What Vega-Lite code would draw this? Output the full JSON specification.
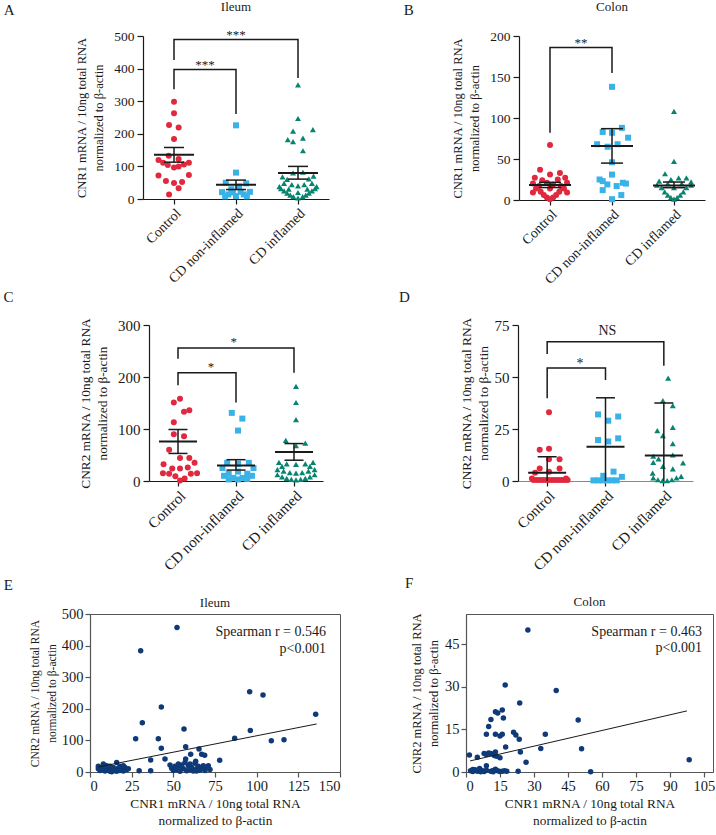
{
  "$schema": "https://vega.github.io/schema/vega-lite/v6.json",
  "padding": {"left": 2, "top": 0, "right": 0, "bottom": 0},
  "config": {
    "font": "Liberation Serif",
    "view": {"stroke": null},
    "axis": {"labelFont": "Liberation Serif", "titleFont": "Liberation Serif", "labelColor": "#1a1a1a", "titleColor": "#1a1a1a", "domainColor": "#1a1a1a", "tickColor": "#1a1a1a", "grid": false, "titleFontWeight": "normal", "labelFontSize": 14, "titleFontSize": 13, "tickSize": 6, "domainWidth": 1.2, "tickWidth": 1.2, "titleLineHeight": 17},
    "title": {"font": "Liberation Serif", "fontWeight": "normal", "fontSize": 13, "color": "#1a1a1a"},
    "text": {"font": "Liberation Serif", "color": "#1a1a1a"}
  },
  "datasets": {
    "ptA": [
      {"g":"Control","o":0,"v":298},{"g":"Control","o":0,"v":263},{"g":"Control","o":-1.6,"v":227},{"g":"Control","o":1.5,"v":219},{"g":"Control","o":0,"v":184},{"g":"Control","o":-1.7,"v":133},{"g":"Control","o":-5,"v":120},{"g":"Control","o":1.5,"v":123},{"g":"Control","o":-3.5,"v":111},{"g":"Control","o":-2,"v":104},{"g":"Control","o":0,"v":97},{"g":"Control","o":1.5,"v":100},{"g":"Control","o":3.2,"v":106},{"g":"Control","o":4.8,"v":111},{"g":"Control","o":-5,"v":72},{"g":"Control","o":-2.6,"v":55},{"g":"Control","o":0,"v":49},{"g":"Control","o":4.8,"v":74},{"g":"Control","o":2.6,"v":52},{"g":"Control","o":1.5,"v":33},{"g":"Control","o":-1.6,"v":14},
      {"g":"CD non-inflamed","o":0,"v":226},{"g":"CD non-inflamed","o":0,"v":81},{"g":"CD non-inflamed","o":-3.3,"v":50},{"g":"CD non-inflamed","o":3.3,"v":48},{"g":"CD non-inflamed","o":1,"v":38},{"g":"CD non-inflamed","o":-1.5,"v":30},{"g":"CD non-inflamed","o":-4.5,"v":21},{"g":"CD non-inflamed","o":-2.5,"v":14},{"g":"CD non-inflamed","o":0,"v":9},{"g":"CD non-inflamed","o":2.5,"v":14},{"g":"CD non-inflamed","o":4.5,"v":22},{"g":"CD non-inflamed","o":-1,"v":20},{"g":"CD non-inflamed","o":1.5,"v":22},{"g":"CD non-inflamed","o":3.5,"v":8},{"g":"CD non-inflamed","o":-3.5,"v":8},
      {"g":"CD inflamed","o":0,"v":350},{"g":"CD inflamed","o":0,"v":247},{"g":"CD inflamed","o":-1.6,"v":208},{"g":"CD inflamed","o":4.8,"v":213},{"g":"CD inflamed","o":-3.3,"v":182},{"g":"CD inflamed","o":-1.6,"v":176},{"g":"CD inflamed","o":1.6,"v":187},{"g":"CD inflamed","o":1.6,"v":148},{"g":"CD inflamed","o":-1.6,"v":80},{"g":"CD inflamed","o":1.6,"v":82},{"g":"CD inflamed","o":-5,"v":68},{"g":"CD inflamed","o":5,"v":70},{"g":"CD inflamed","o":3.5,"v":62},{"g":"CD inflamed","o":-3.5,"v":60},{"g":"CD inflamed","o":-4.5,"v":48},{"g":"CD inflamed","o":4.5,"v":48},{"g":"CD inflamed","o":-2,"v":44},{"g":"CD inflamed","o":2,"v":44},{"g":"CD inflamed","o":0,"v":40},{"g":"CD inflamed","o":-5.5,"v":32},{"g":"CD inflamed","o":5.5,"v":32},{"g":"CD inflamed","o":-4.5,"v":25},{"g":"CD inflamed","o":4.5,"v":25},{"g":"CD inflamed","o":-3.5,"v":18},{"g":"CD inflamed","o":3.5,"v":18},{"g":"CD inflamed","o":-2.5,"v":12},{"g":"CD inflamed","o":2.5,"v":12},{"g":"CD inflamed","o":-1.5,"v":7},{"g":"CD inflamed","o":1.5,"v":7},{"g":"CD inflamed","o":0,"v":3},{"g":"CD inflamed","o":-6,"v":38},{"g":"CD inflamed","o":6,"v":38},{"g":"CD inflamed","o":-3,"v":30},{"g":"CD inflamed","o":3,"v":30},{"g":"CD inflamed","o":0,"v":20}
    ],
    "stA": [
      {"g":"Control","s":"mean","v":136},{"g":"Control","s":"hi","v":158},{"g":"Control","s":"lo","v":113},
      {"g":"CD non-inflamed","s":"mean","v":44},{"g":"CD non-inflamed","s":"hi","v":58},{"g":"CD non-inflamed","s":"lo","v":29},
      {"g":"CD inflamed","s":"mean","v":80},{"g":"CD inflamed","s":"hi","v":100},{"g":"CD inflamed","s":"lo","v":61}
    ],
    "brA": [
      {"b":1,"k":1,"g":"Control","v":337},{"b":1,"k":2,"g":"Control","v":397},{"b":1,"k":3,"g":"CD non-inflamed","v":397},{"b":1,"k":4,"g":"CD non-inflamed","v":261},
      {"b":2,"k":1,"g":"Control","v":426},{"b":2,"k":2,"g":"Control","v":489},{"b":2,"k":3,"g":"CD inflamed","v":489},{"b":2,"k":4,"g":"CD inflamed","v":371}
    ],
    "txA": [
      {"g":"Control","o":10,"v":399,"t":"***"},{"g":"CD non-inflamed","o":0,"v":492,"t":"***"}
    ],
    "ptB": [
      {"g":"Control","o":0,"v":67},{"g":"Control","o":-3.2,"v":37},{"g":"Control","o":0,"v":31},{"g":"Control","o":3.2,"v":33},{"g":"Control","o":-4.9,"v":27},{"g":"Control","o":4.9,"v":27},{"g":"Control","o":-2.5,"v":24},{"g":"Control","o":2.5,"v":25},{"g":"Control","o":-1,"v":21},{"g":"Control","o":1,"v":19},{"g":"Control","o":-5.5,"v":20},{"g":"Control","o":5.5,"v":21},{"g":"Control","o":-4.5,"v":14},{"g":"Control","o":4.5,"v":14},{"g":"Control","o":-3,"v":10},{"g":"Control","o":3,"v":10},{"g":"Control","o":-2,"v":6},{"g":"Control","o":2,"v":6},{"g":"Control","o":-1,"v":3},{"g":"Control","o":1,"v":3},{"g":"Control","o":0,"v":1},{"g":"Control","o":-3.5,"v":17},{"g":"Control","o":3.5,"v":17},{"g":"Control","o":0,"v":14},{"g":"Control","o":-5.5,"v":9},{"g":"Control","o":5.5,"v":9},
      {"g":"CD non-inflamed","o":0,"v":138},{"g":"CD non-inflamed","o":3.2,"v":88},{"g":"CD non-inflamed","o":-3,"v":83},{"g":"CD non-inflamed","o":0,"v":82},{"g":"CD non-inflamed","o":5.2,"v":76},{"g":"CD non-inflamed","o":-4.8,"v":68},{"g":"CD non-inflamed","o":1.8,"v":68},{"g":"CD non-inflamed","o":-1.4,"v":65},{"g":"CD non-inflamed","o":0,"v":46},{"g":"CD non-inflamed","o":0,"v":31},{"g":"CD non-inflamed","o":-3,"v":23},{"g":"CD non-inflamed","o":3.5,"v":21},{"g":"CD non-inflamed","o":-1.5,"v":19},{"g":"CD non-inflamed","o":1.5,"v":17},{"g":"CD non-inflamed","o":-3,"v":12},{"g":"CD non-inflamed","o":3,"v":6},{"g":"CD non-inflamed","o":0,"v":1},{"g":"CD non-inflamed","o":4.5,"v":20},{"g":"CD non-inflamed","o":-4,"v":25},
      {"g":"CD inflamed","o":0,"v":108},{"g":"CD inflamed","o":0,"v":47},{"g":"CD inflamed","o":-2.9,"v":32},{"g":"CD inflamed","o":-4.8,"v":23},{"g":"CD inflamed","o":1.5,"v":27},{"g":"CD inflamed","o":4,"v":27},{"g":"CD inflamed","o":-1,"v":25},{"g":"CD inflamed","o":5.5,"v":22},{"g":"CD inflamed","o":-4,"v":15},{"g":"CD inflamed","o":4,"v":15},{"g":"CD inflamed","o":-3,"v":10},{"g":"CD inflamed","o":3,"v":10},{"g":"CD inflamed","o":-2,"v":6},{"g":"CD inflamed","o":2,"v":6},{"g":"CD inflamed","o":-1,"v":3},{"g":"CD inflamed","o":1,"v":3},{"g":"CD inflamed","o":0,"v":1},{"g":"CD inflamed","o":-5.5,"v":18},{"g":"CD inflamed","o":5.5,"v":18},{"g":"CD inflamed","o":0,"v":15},{"g":"CD inflamed","o":-2,"v":20},{"g":"CD inflamed","o":2.5,"v":20}
    ],
    "stB": [
      {"g":"Control","s":"mean","v":18.4},{"g":"Control","s":"hi","v":21.5},{"g":"Control","s":"lo","v":15.2},
      {"g":"CD non-inflamed","s":"mean","v":66},{"g":"CD non-inflamed","s":"hi","v":87},{"g":"CD non-inflamed","s":"lo","v":45},
      {"g":"CD inflamed","s":"mean","v":17.6},{"g":"CD inflamed","s":"hi","v":21.9},{"g":"CD inflamed","s":"lo","v":15}
    ],
    "brB": [
      {"b":1,"k":1,"g":"Control","v":82},{"b":1,"k":2,"g":"Control","v":186},{"b":1,"k":3,"g":"CD non-inflamed","v":186},{"b":1,"k":4,"g":"CD non-inflamed","v":155}
    ],
    "txB": [
      {"g":"Control","o":10,"v":187,"t":"**"}
    ],
    "ptC": [
      {"g":"Control","o":0,"v":158},{"g":"Control","o":-2,"v":151},{"g":"Control","o":3,"v":136},{"g":"Control","o":1.3,"v":133},{"g":"Control","o":-2,"v":113},{"g":"Control","o":-2,"v":90},{"g":"Control","o":1.3,"v":86},{"g":"Control","o":-3.5,"v":60},{"g":"Control","o":0,"v":44},{"g":"Control","o":3,"v":44},{"g":"Control","o":-5.3,"v":32},{"g":"Control","o":4.7,"v":35},{"g":"Control","o":-2.5,"v":24},{"g":"Control","o":0,"v":24},{"g":"Control","o":2.5,"v":26},{"g":"Control","o":-5.5,"v":15},{"g":"Control","o":-3.5,"v":14},{"g":"Control","o":-1.5,"v":9},{"g":"Control","o":1.5,"v":5},{"g":"Control","o":3.5,"v":14},{"g":"Control","o":5.5,"v":15},{"g":"Control","o":0,"v":1},
      {"g":"CD non-inflamed","o":-2,"v":131},{"g":"CD non-inflamed","o":1.4,"v":120},{"g":"CD non-inflamed","o":0,"v":97},{"g":"CD non-inflamed","o":-3.5,"v":35},{"g":"CD non-inflamed","o":0,"v":33},{"g":"CD non-inflamed","o":3.5,"v":35},{"g":"CD non-inflamed","o":-5,"v":25},{"g":"CD non-inflamed","o":5,"v":25},{"g":"CD non-inflamed","o":-3,"v":14},{"g":"CD non-inflamed","o":3,"v":14},{"g":"CD non-inflamed","o":-4.5,"v":10},{"g":"CD non-inflamed","o":4.5,"v":10},{"g":"CD non-inflamed","o":-1.5,"v":6},{"g":"CD non-inflamed","o":1.5,"v":6},{"g":"CD non-inflamed","o":0,"v":3},{"g":"CD non-inflamed","o":-3,"v":3},{"g":"CD non-inflamed","o":3,"v":4},{"g":"CD non-inflamed","o":0,"v":18},
      {"g":"CD inflamed","o":0,"v":182},{"g":"CD inflamed","o":0,"v":151},{"g":"CD inflamed","o":0,"v":118},{"g":"CD inflamed","o":-3.3,"v":78},{"g":"CD inflamed","o":3,"v":73},{"g":"CD inflamed","o":0,"v":68},{"g":"CD inflamed","o":-5.5,"v":36},{"g":"CD inflamed","o":-3,"v":33},{"g":"CD inflamed","o":0,"v":32},{"g":"CD inflamed","o":3,"v":33},{"g":"CD inflamed","o":5.5,"v":36},{"g":"CD inflamed","o":-4.5,"v":28},{"g":"CD inflamed","o":4.5,"v":28},{"g":"CD inflamed","o":-6,"v":22},{"g":"CD inflamed","o":-4,"v":19},{"g":"CD inflamed","o":-2,"v":16},{"g":"CD inflamed","o":0,"v":15},{"g":"CD inflamed","o":2,"v":16},{"g":"CD inflamed","o":4,"v":19},{"g":"CD inflamed","o":6,"v":22},{"g":"CD inflamed","o":-6,"v":12},{"g":"CD inflamed","o":-4.5,"v":8},{"g":"CD inflamed","o":-3,"v":5},{"g":"CD inflamed","o":-1.5,"v":3},{"g":"CD inflamed","o":0,"v":2},{"g":"CD inflamed","o":1.5,"v":3},{"g":"CD inflamed","o":3,"v":5},{"g":"CD inflamed","o":4.5,"v":8},{"g":"CD inflamed","o":6,"v":12}
    ],
    "stC": [
      {"g":"Control","s":"mean","v":76},{"g":"Control","s":"hi","v":99},{"g":"Control","s":"lo","v":53},
      {"g":"CD non-inflamed","s":"mean","v":30},{"g":"CD non-inflamed","s":"hi","v":41},{"g":"CD non-inflamed","s":"lo","v":21},
      {"g":"CD inflamed","s":"mean","v":56},{"g":"CD inflamed","s":"hi","v":72},{"g":"CD inflamed","s":"lo","v":40}
    ],
    "brC": [
      {"b":1,"k":1,"g":"Control","v":184},{"b":1,"k":2,"g":"Control","v":208},{"b":1,"k":3,"g":"CD non-inflamed","v":208},{"b":1,"k":4,"g":"CD non-inflamed","v":151},
      {"b":2,"k":1,"g":"Control","v":235},{"b":2,"k":2,"g":"Control","v":256},{"b":2,"k":3,"g":"CD inflamed","v":256},{"b":2,"k":4,"g":"CD inflamed","v":208}
    ],
    "txC": [
      {"g":"Control","o":10,"v":211,"t":"*"},{"g":"CD non-inflamed","o":-1.4,"v":260,"t":"*"}
    ],
    "ptD": [
      {"g":"Control","o":0,"v":33},{"g":"Control","o":-3,"v":15},{"g":"Control","o":0,"v":15.5},{"g":"Control","o":0,"v":10.5},{"g":"Control","o":3.4,"v":10.5},{"g":"Control","o":-3,"v":6},{"g":"Control","o":-4.5,"v":4},{"g":"Control","o":0,"v":4.5},{"g":"Control","o":3.4,"v":6},{"g":"Control","o":-5,"v":0.5},{"g":"Control","o":-4,"v":0.5},{"g":"Control","o":-3,"v":0.5},{"g":"Control","o":-2,"v":0.5},{"g":"Control","o":-1,"v":0.5},{"g":"Control","o":0,"v":0.5},{"g":"Control","o":1,"v":0.5},{"g":"Control","o":2,"v":0.5},{"g":"Control","o":3,"v":0.5},{"g":"Control","o":4,"v":0.5},{"g":"Control","o":5,"v":0.5},{"g":"Control","o":6,"v":0.5},{"g":"Control","o":-5.5,"v":1.2},{"g":"Control","o":5.5,"v":1.2},
      {"g":"CD non-inflamed","o":-3,"v":32},{"g":"CD non-inflamed","o":3.5,"v":31},{"g":"CD non-inflamed","o":0.3,"v":29},{"g":"CD non-inflamed","o":-3,"v":19.7},{"g":"CD non-inflamed","o":0.3,"v":19},{"g":"CD non-inflamed","o":3.5,"v":20.5},{"g":"CD non-inflamed","o":2,"v":4.5},{"g":"CD non-inflamed","o":-1.3,"v":2.5},{"g":"CD non-inflamed","o":4.7,"v":2},{"g":"CD non-inflamed","o":-4.5,"v":0.3},{"g":"CD non-inflamed","o":-3,"v":0.3},{"g":"CD non-inflamed","o":-1.5,"v":0.3},{"g":"CD non-inflamed","o":0,"v":0.3},{"g":"CD non-inflamed","o":1.5,"v":0.3},{"g":"CD non-inflamed","o":3,"v":0.3},
      {"g":"CD inflamed","o":0.8,"v":49.5},{"g":"CD inflamed","o":-0.9,"v":38.6},{"g":"CD inflamed","o":2.3,"v":36.2},{"g":"CD inflamed","o":-2.7,"v":24.2},{"g":"CD inflamed","o":2.3,"v":25.8},{"g":"CD inflamed","o":-0.9,"v":21.8},{"g":"CD inflamed","o":2.3,"v":18},{"g":"CD inflamed","o":-4,"v":11.9},{"g":"CD inflamed","o":-2.3,"v":10.6},{"g":"CD inflamed","o":2.3,"v":12.5},{"g":"CD inflamed","o":-4,"v":9},{"g":"CD inflamed","o":5.6,"v":8.7},{"g":"CD inflamed","o":-0.9,"v":7},{"g":"CD inflamed","o":2.3,"v":5.8},{"g":"CD inflamed","o":-4.2,"v":3.8},{"g":"CD inflamed","o":-4,"v":1.5},{"g":"CD inflamed","o":-2.5,"v":0.6},{"g":"CD inflamed","o":-1,"v":0.2},{"g":"CD inflamed","o":0.5,"v":0.2},{"g":"CD inflamed","o":2,"v":0.6},{"g":"CD inflamed","o":3.5,"v":1.5},{"g":"CD inflamed","o":5,"v":2.2}
    ],
    "stD": [
      {"g":"Control","s":"mean","v":4},{"g":"Control","s":"hi","v":11.7},{"g":"Control","s":"base","v":0},
      {"g":"CD non-inflamed","s":"mean","v":16.5},{"g":"CD non-inflamed","s":"hi","v":40},{"g":"CD non-inflamed","s":"base","v":0},
      {"g":"CD inflamed","s":"mean","v":12.3},{"g":"CD inflamed","s":"hi","v":37.5},{"g":"CD inflamed","s":"base","v":0}
    ],
    "brD": [
      {"b":1,"k":1,"g":"Control","v":39.8},{"b":1,"k":2,"g":"Control","v":54.3},{"b":1,"k":3,"g":"CD non-inflamed","v":54.3},{"b":1,"k":4,"g":"CD non-inflamed","v":48.6},
      {"b":2,"k":1,"g":"Control","v":61},{"b":2,"k":2,"g":"Control","v":67},{"b":2,"k":3,"g":"CD inflamed","v":67},{"b":2,"k":4,"g":"CD inflamed","v":55.4}
    ],
    "txD": [
      {"g":"Control","o":10,"v":54.5,"t":"*"},{"g":"CD non-inflamed","o":0,"v":70.4,"t":"NS"}
    ],
    "scE": [
      {"x":5,"y":18},{"x":5,"y":10},{"x":6,"y":5},{"x":7,"y":14},{"x":8,"y":8},{"x":8,"y":25},{"x":9,"y":3},{"x":10,"y":12},{"x":11,"y":6},{"x":12,"y":18},{"x":12,"y":2},{"x":13,"y":9},{"x":14,"y":4},{"x":14,"y":14},{"x":15,"y":7},{"x":16,"y":2},{"x":16,"y":30},{"x":17,"y":12},{"x":18,"y":5},{"x":18,"y":18},{"x":19,"y":9},{"x":20,"y":3},{"x":21,"y":14},{"x":22,"y":8},{"x":23,"y":10},{"x":10,"y":20},{"x":13,"y":1},{"x":20,"y":20},
      {"x":48,"y":22},{"x":49,"y":12},{"x":50,"y":5},{"x":51,"y":18},{"x":52,"y":8},{"x":53,"y":25},{"x":54,"y":2},{"x":55,"y":15},{"x":56,"y":10},{"x":57,"y":30},{"x":58,"y":4},{"x":59,"y":20},{"x":60,"y":8},{"x":61,"y":14},{"x":62,"y":3},{"x":63,"y":28},{"x":64,"y":10},{"x":65,"y":18},{"x":66,"y":6},{"x":67,"y":12},{"x":68,"y":20},{"x":69,"y":5},{"x":70,"y":15},{"x":71,"y":20},{"x":72,"y":8},{"x":55,"y":22},{"x":60,"y":25},{"x":64,"y":3},{"x":52,"y":15},
      {"x":29.5,"y":4},{"x":36.4,"y":4},{"x":36.4,"y":38},{"x":45,"y":41},{"x":57.4,"y":41},{"x":63.4,"y":34},{"x":77.8,"y":37},{"x":60.4,"y":56},{"x":67,"y":56},{"x":68.8,"y":53},{"x":65.4,"y":73},{"x":57.4,"y":80},{"x":42.8,"y":75},{"x":27.4,"y":105},{"x":41,"y":105},{"x":86.8,"y":107},{"x":108.8,"y":99},{"x":116.4,"y":102},{"x":56.4,"y":136},{"x":96.2,"y":131},{"x":31.4,"y":156},{"x":42.8,"y":206},{"x":135.4,"y":183},{"x":95.8,"y":254},{"x":103.8,"y":244},{"x":30.4,"y":384},{"x":52.2,"y":457}
    ],
    "rgE": [{"x":5,"y":16},{"x":136,"y":152}],
    "spE": [{"x":141.6,"y":443,"t":"Spearman r = 0.546"},{"x":141.6,"y":389,"t":"p<0.001"}],
    "scF": [
      {"x":27.3,"y":50},{"x":17.3,"y":30.6},{"x":39.8,"y":28.7},{"x":23.7,"y":24.3},{"x":13,"y":21.2},{"x":14,"y":20.8},{"x":16,"y":21.8},{"x":16.5,"y":19},{"x":11,"y":18.5},{"x":10,"y":16},{"x":49.5,"y":18.3},{"x":9,"y":13.3},{"x":13,"y":13.3},{"x":15,"y":12.7},{"x":16,"y":13.3},{"x":21,"y":14},{"x":22,"y":13},{"x":23.5,"y":11.5},{"x":35,"y":13.3},{"x":17.5,"y":8.8},{"x":33,"y":8.3},{"x":51,"y":8.2},{"x":24,"y":7},{"x":8,"y":6.5},{"x":9,"y":6.2},{"x":10,"y":6.7},{"x":11,"y":6.5},{"x":13,"y":7},{"x":12.5,"y":5.8},{"x":13.5,"y":5.5},{"x":15,"y":5},{"x":1.5,"y":6},{"x":5,"y":5.2},{"x":26.5,"y":3.4},{"x":98.5,"y":4.3},{"x":9,"y":2.2},
      {"x":2,"y":0.4},{"x":3,"y":0.2},{"x":4,"y":0.8},{"x":5,"y":0.3},{"x":6,"y":1.2},{"x":7,"y":0.5},{"x":8,"y":0.2},{"x":9,"y":0.6},{"x":11,"y":0.3},{"x":12,"y":0.5},{"x":13,"y":1},{"x":14,"y":0.4},{"x":15,"y":0.2},{"x":16,"y":0.3},{"x":17,"y":0.4},{"x":18,"y":0.3},{"x":23,"y":0.3},{"x":55,"y":0.1},{"x":6.5,"y":0.1},{"x":12,"y":0.1},{"x":3,"y":0.9}
    ],
    "rgF": [{"x":1.8,"y":3.9},{"x":97.5,"y":21.5}],
    "spF": [{"x":104.1,"y":49.1,"t":"Spearman r = 0.463"},{"x":104.1,"y":43.5,"t":"p<0.001"}],
    "none": []
  },
  "spacing": 2,
  "vconcat": [
    {
      "spacing": 74,
      "hconcat": [
        {"spacing": 0, "hconcat": [
          {"width": 1, "height": 1, "data": {"name": "none"}, "mark": "point"},
          {
            "title": {"text": "A", "anchor": "start", "frame": "bounds", "dx": -72, "offset": -17, "fontSize": 15},
            "vconcat": [{
              "title": {"text": "Ileum", "offset": 15},
              "width": 186, "height": 163,
              "encoding": {
                "x": {"field": "g", "type": "nominal", "scale": {"type": "band", "domain": ["Control", "CD non-inflamed", "CD inflamed"], "paddingInner": 0, "paddingOuter": 0}, "axis": {"title": null, "labelAngle": -45, "labelFontSize": 14, "tickSize": 5, "labelPadding": 2}},
                "y": {"field": "v", "type": "quantitative", "scale": {"domain": [0, 500], "nice": false}, "axis": {"title": ["CNR1 mRNA / 10ng total RNA", "normalized to β-actin"], "values": [0, 100, 200, 300, 400, 500], "labelFontSize": 13.5, "titleFontSize": 12.5, "labelPadding": 3, "titlePadding": 8}}
              },
              "layer": [
                {"data": {"name": "ptA"}, "mark": {"type": "point", "filled": true, "opacity": 1, "size": 36}, "encoding": {"xOffset": {"field": "o", "type": "quantitative", "scale": {"domain": [-10, 10]}}, "color": {"field": "g", "type": "nominal", "scale": {"domain": ["Control", "CD non-inflamed", "CD inflamed"], "range": ["#e0283e", "#39b2e8", "#07846f"]}, "legend": null}, "shape": {"field": "g", "type": "nominal", "scale": {"domain": ["Control", "CD non-inflamed", "CD inflamed"], "range": ["circle", "square", "triangle-up"]}, "legend": null}}},
                {"data": {"name": "stA"}, "transform": [{"filter": "datum.s !== 'mean'"}], "mark": {"type": "line", "color": "#1a1a1a", "strokeWidth": 1.5}, "encoding": {"detail": {"field": "g"}}},
                {"data": {"name": "stA"}, "transform": [{"filter": "datum.s === 'mean'"}], "mark": {"type": "tick", "size": 40, "thickness": 2, "color": "#1a1a1a", "opacity": 1}},
                {"data": {"name": "stA"}, "transform": [{"filter": "datum.s === 'hi' || datum.s === 'lo'"}], "mark": {"type": "tick", "size": 20, "thickness": 1.5, "color": "#1a1a1a", "opacity": 1}},
                {"data": {"name": "brA"}, "mark": {"type": "line", "color": "#1a1a1a", "strokeWidth": 1.5}, "encoding": {"detail": {"field": "b"}, "order": {"field": "k"}}},
                {"data": {"name": "txA"}, "mark": {"type": "text", "fontSize": 13, "baseline": "alphabetic", "color": "#1a1a1a"}, "encoding": {"xOffset": {"field": "o", "type": "quantitative", "scale": {"domain": [-10, 10]}}, "text": {"field": "t"}}}
              ]
            }]
          }
        ]},
        {
          "title": {"text": "B", "anchor": "start", "frame": "bounds", "dx": -48, "offset": -17, "fontSize": 15},
          "vconcat": [{
            "title": {"text": "Colon", "offset": 15},
            "width": 186, "height": 164,
            "encoding": {
              "x": {"field": "g", "type": "nominal", "scale": {"type": "band", "domain": ["Control", "CD non-inflamed", "CD inflamed"], "paddingInner": 0, "paddingOuter": 0}, "axis": {"title": null, "labelAngle": -45, "labelFontSize": 14, "tickSize": 5, "labelPadding": 2}},
              "y": {"field": "v", "type": "quantitative", "scale": {"domain": [0, 200], "nice": false}, "axis": {"title": ["CNR1 mRNA / 10ng total RNA", "normalized to β-actin"], "values": [0, 50, 100, 150, 200], "labelFontSize": 13.5, "titleFontSize": 12.5, "labelPadding": 3, "titlePadding": 8}}
            },
            "layer": [
              {"data": {"name": "ptB"}, "mark": {"type": "point", "filled": true, "opacity": 1, "size": 36}, "encoding": {"xOffset": {"field": "o", "type": "quantitative", "scale": {"domain": [-10, 10]}}, "color": {"field": "g", "type": "nominal", "scale": {"domain": ["Control", "CD non-inflamed", "CD inflamed"], "range": ["#e0283e", "#39b2e8", "#07846f"]}, "legend": null}, "shape": {"field": "g", "type": "nominal", "scale": {"domain": ["Control", "CD non-inflamed", "CD inflamed"], "range": ["circle", "square", "triangle-up"]}, "legend": null}}},
              {"data": {"name": "stB"}, "transform": [{"filter": "datum.s !== 'mean'"}], "mark": {"type": "line", "color": "#1a1a1a", "strokeWidth": 1.5}, "encoding": {"detail": {"field": "g"}}},
              {"data": {"name": "stB"}, "transform": [{"filter": "datum.s === 'mean'"}], "mark": {"type": "tick", "size": 42, "thickness": 2, "color": "#1a1a1a", "opacity": 1}},
              {"data": {"name": "stB"}, "transform": [{"filter": "datum.s === 'hi' || datum.s === 'lo'"}], "mark": {"type": "tick", "size": 22, "thickness": 1.5, "color": "#1a1a1a", "opacity": 1}},
              {"data": {"name": "brB"}, "mark": {"type": "line", "color": "#1a1a1a", "strokeWidth": 1.5}, "encoding": {"detail": {"field": "b"}, "order": {"field": "k"}}},
              {"data": {"name": "txB"}, "mark": {"type": "text", "fontSize": 13, "baseline": "alphabetic", "color": "#1a1a1a"}, "encoding": {"xOffset": {"field": "o", "type": "quantitative", "scale": {"domain": [-10, 10]}}, "text": {"field": "t"}}}
            ]
          }]
        }
      ]
    },
    {
      "spacing": 76,
      "hconcat": [
        {"spacing": 0, "hconcat": [
          {"width": 1, "height": 1, "data": {"name": "none"}, "mark": "point"},
          {
            "title": {"text": "C", "anchor": "start", "frame": "bounds", "dx": -75, "offset": 12, "fontSize": 15},
            "width": 174, "height": 156,
            "encoding": {
              "x": {"field": "g", "type": "nominal", "scale": {"type": "band", "domain": ["Control", "CD non-inflamed", "CD inflamed"], "paddingInner": 0, "paddingOuter": 0}, "axis": {"title": null, "labelAngle": -45, "labelFontSize": 15, "tickSize": 5, "labelPadding": 2}},
              "y": {"field": "v", "type": "quantitative", "scale": {"domain": [0, 300], "nice": false}, "axis": {"title": ["CNR2 mRNA / 10ng total RNA", "normalized to β-actin"], "values": [0, 100, 200, 300], "labelFontSize": 15, "titleFontSize": 13.3, "labelPadding": 3, "titlePadding": 8}}
            },
            "layer": [
              {"data": {"name": "ptC"}, "mark": {"type": "point", "filled": true, "opacity": 1, "size": 36}, "encoding": {"xOffset": {"field": "o", "type": "quantitative", "scale": {"domain": [-10, 10]}}, "color": {"field": "g", "type": "nominal", "scale": {"domain": ["Control", "CD non-inflamed", "CD inflamed"], "range": ["#e0283e", "#39b2e8", "#07846f"]}, "legend": null}, "shape": {"field": "g", "type": "nominal", "scale": {"domain": ["Control", "CD non-inflamed", "CD inflamed"], "range": ["circle", "square", "triangle-up"]}, "legend": null}}},
              {"data": {"name": "stC"}, "transform": [{"filter": "datum.s !== 'mean'"}], "mark": {"type": "line", "color": "#1a1a1a", "strokeWidth": 1.5}, "encoding": {"detail": {"field": "g"}}},
              {"data": {"name": "stC"}, "transform": [{"filter": "datum.s === 'mean'"}], "mark": {"type": "tick", "size": 38, "thickness": 2, "color": "#1a1a1a", "opacity": 1}},
              {"data": {"name": "stC"}, "transform": [{"filter": "datum.s === 'hi' || datum.s === 'lo'"}], "mark": {"type": "tick", "size": 19, "thickness": 1.5, "color": "#1a1a1a", "opacity": 1}},
              {"data": {"name": "brC"}, "mark": {"type": "line", "color": "#1a1a1a", "strokeWidth": 1.5}, "encoding": {"detail": {"field": "b"}, "order": {"field": "k"}}},
              {"data": {"name": "txC"}, "mark": {"type": "text", "fontSize": 13, "baseline": "alphabetic", "color": "#1a1a1a"}, "encoding": {"xOffset": {"field": "o", "type": "quantitative", "scale": {"domain": [-10, 10]}}, "text": {"field": "t"}}}
            ]
          }
        ]},
        {
          "title": {"text": "D", "anchor": "start", "frame": "bounds", "dx": -60, "offset": 12, "fontSize": 15},
          "width": 175, "height": 156,
          "encoding": {
            "x": {"field": "g", "type": "nominal", "scale": {"type": "band", "domain": ["Control", "CD non-inflamed", "CD inflamed"], "paddingInner": 0, "paddingOuter": 0}, "axis": {"title": null, "labelAngle": -45, "labelFontSize": 15, "tickSize": 5, "labelPadding": 2, "domainColor": "#888"}},
            "y": {"field": "v", "type": "quantitative", "scale": {"domain": [0, 75], "nice": false}, "axis": {"title": ["CNR2 mRNA / 10ng total RNA", "normalized to β-actin"], "values": [0, 25, 50, 75], "labelFontSize": 15, "titleFontSize": 13.4, "labelPadding": 3, "titlePadding": 4}}
          },
          "layer": [
            {"data": {"name": "ptD"}, "mark": {"type": "point", "filled": true, "opacity": 1, "size": 36}, "encoding": {"xOffset": {"field": "o", "type": "quantitative", "scale": {"domain": [-10, 10]}}, "color": {"field": "g", "type": "nominal", "scale": {"domain": ["Control", "CD non-inflamed", "CD inflamed"], "range": ["#e0283e", "#39b2e8", "#07846f"]}, "legend": null}, "shape": {"field": "g", "type": "nominal", "scale": {"domain": ["Control", "CD non-inflamed", "CD inflamed"], "range": ["circle", "square", "triangle-up"]}, "legend": null}}},
            {"data": {"name": "stD"}, "transform": [{"filter": "datum.s !== 'mean'"}], "mark": {"type": "line", "color": "#1a1a1a", "strokeWidth": 1.5}, "encoding": {"detail": {"field": "g"}}},
            {"data": {"name": "stD"}, "transform": [{"filter": "datum.s === 'mean'"}], "mark": {"type": "tick", "size": 38, "thickness": 2, "color": "#1a1a1a", "opacity": 1}},
            {"data": {"name": "stD"}, "transform": [{"filter": "datum.s === 'hi'"}], "mark": {"type": "tick", "size": 19, "thickness": 1.5, "color": "#1a1a1a", "opacity": 1}},
            {"data": {"name": "brD"}, "mark": {"type": "line", "color": "#1a1a1a", "strokeWidth": 1.5}, "encoding": {"detail": {"field": "b"}, "order": {"field": "k"}}},
            {"data": {"name": "txD"}, "mark": {"type": "text", "fontSize": 14, "baseline": "alphabetic", "color": "#1a1a1a"}, "encoding": {"xOffset": {"field": "o", "type": "quantitative", "scale": {"domain": [-10, 10]}}, "text": {"field": "t"}}}
          ]
        }
      ]
    },
    {
      "spacing": 63,
      "hconcat": [
        {"spacing": 0, "hconcat": [
          {"width": 1, "height": 1, "data": {"name": "none"}, "mark": "point"},
          {
            "title": {"text": "E", "anchor": "start", "frame": "bounds", "dx": -25, "offset": 4, "fontSize": 15},
            "vconcat": [{
              "title": {"text": "Ileum", "offset": -4},
              "width": 250, "height": 158,
              "view": {"stroke": "#555"},
              "encoding": {
                "x": {"field": "x", "type": "quantitative", "scale": {"domain": [0, 150], "nice": false}, "axis": {"values": [0, 25, 50, 75, 100, 125, 150], "title": ["CNR1 mRNA / 10ng total RNA", "normalized to β-actin"], "titleFontSize": 13.3, "labelFontSize": 14.5, "domainColor": "#555", "tickColor": "#555", "tickSize": 5}},
                "y": {"field": "y", "type": "quantitative", "scale": {"domain": [0, 500], "nice": false}, "axis": {"values": [0, 100, 200, 300, 400, 500], "title": ["CNR2 mRNA / 10ng total RNA", "normalized to β-actin"], "titleFontSize": 11.5, "labelFontSize": 14.5, "domainColor": "#555", "tickColor": "#555", "tickSize": 5}}
              },
              "layer": [
                {"data": {"name": "scE"}, "mark": {"type": "circle", "size": 30, "opacity": 1, "color": "#0f3a78"}},
                {"data": {"name": "rgE"}, "mark": {"type": "line", "color": "#1a1a1a", "strokeWidth": 1}},
                {"data": {"name": "spE"}, "mark": {"type": "text", "align": "right", "baseline": "middle", "fontSize": 14, "color": "#1a1a1a"}, "encoding": {"text": {"field": "t"}}}
              ]
            }]
          }
        ]},
        {
          "title": {"text": "F", "anchor": "start", "frame": "bounds", "dx": -5, "offset": 4, "fontSize": 15},
          "vconcat": [{
            "title": {"text": "Colon", "offset": 4},
            "width": 247, "height": 158,
            "view": {"stroke": "#555"},
            "encoding": {
              "x": {"field": "x", "type": "quantitative", "scale": {"domain": [0, 109], "nice": false}, "axis": {"values": [0, 15, 30, 45, 60, 75, 90, 105], "title": ["CNR1 mRNA / 10ng total RNA", "normalized to β-actin"], "titleFontSize": 13.3, "labelFontSize": 14.5, "domainColor": "#555", "tickColor": "#555", "tickSize": 5}},
              "y": {"field": "y", "type": "quantitative", "scale": {"domain": [0, 55.6], "nice": false}, "axis": {"values": [0, 15, 30, 45], "title": ["CNR2 mRNA / 10ng total RNA", "normalized to β-actin"], "titleFontSize": 12.5, "labelFontSize": 14.5, "domainColor": "#555", "tickColor": "#555", "tickSize": 5}}
            },
            "layer": [
              {"data": {"name": "scF"}, "mark": {"type": "circle", "size": 30, "opacity": 1, "color": "#0f3a78"}},
              {"data": {"name": "rgF"}, "mark": {"type": "line", "color": "#1a1a1a", "strokeWidth": 1}},
              {"data": {"name": "spF"}, "mark": {"type": "text", "align": "right", "baseline": "middle", "fontSize": 14, "color": "#1a1a1a"}, "encoding": {"text": {"field": "t"}}}
            ]
          }]
        }
      ]
    }
  ]
}
